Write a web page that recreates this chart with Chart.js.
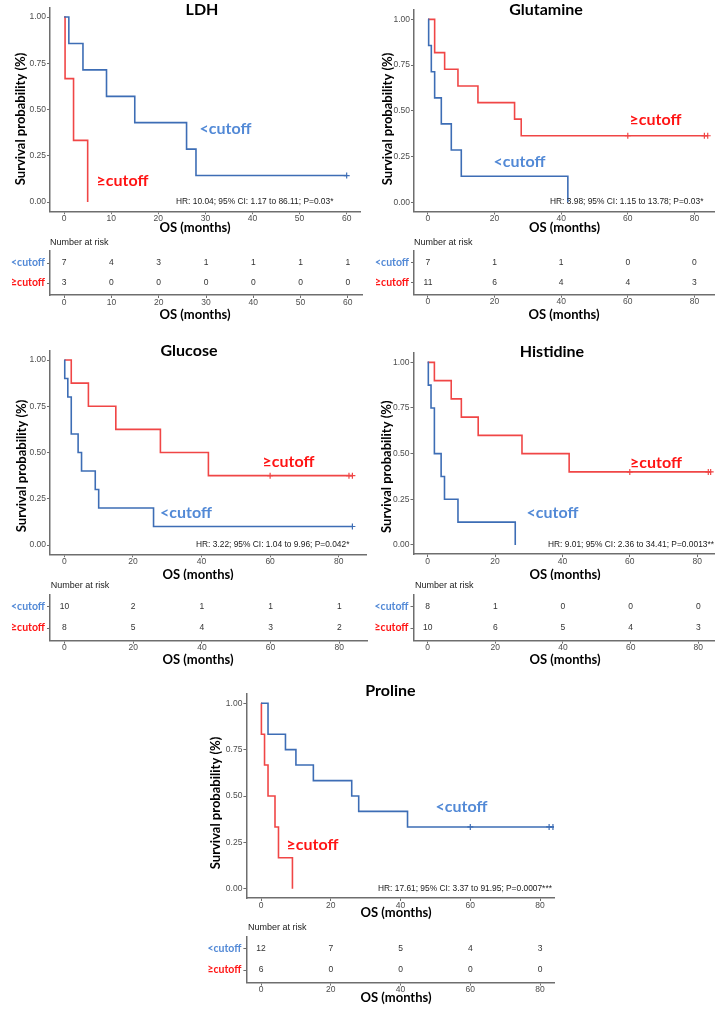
<!DOCTYPE html>
<html><head><meta charset="utf-8">
<script src="https://cdn.jsdelivr.net/npm/chart.js@4.4.1/dist/chart.umd.min.js"></script>
<style>
html,body{margin:0;padding:0;background:#fff;overflow:hidden;}
body{position:relative;width:715px;height:1015px;}
canvas{position:absolute;}
</style></head><body>
<script>
// ---------------- DATA ----------------
const groups = ['<cutoff', '≥cutoff'];
const yTickVals = [0, 0.25, 0.5, 0.75, 1];
const yTickLabels = ['0.00', '0.25', '0.50', '0.75', '1.00'];
const xTicksLDH = [0, 10, 20, 30, 40, 50, 60];
const xTicksOther = [0, 20, 40, 60, 80];

// LDH
const ldhLowT = [0, 1, 4, 9, 15, 26, 28, 60];
const ldhLowS = [1, 0.857, 0.714, 0.571, 0.429, 0.286, 0.143, 0.143];
const ldhLowCensT = [60];
const ldhLowCensS = [0.143];
const ldhHighT = [0, 0.2, 2, 5];
const ldhHighS = [1, 0.667, 0.333, 0];
const ldhHighCensT = [];
const ldhHighCensS = [];
const ldhRiskLow = [7, 4, 3, 1, 1, 1, 1];
const ldhRiskHigh = [3, 0, 0, 0, 0, 0, 0];
const ldhHR = 'HR: 10.04; 95% CI: 1.17 to 86.11; P=0.03*';

// Glutamine
const glnLowT = [0, 0.2, 1, 2, 4, 7, 10, 42];
const glnLowS = [1, 0.857, 0.714, 0.571, 0.429, 0.286, 0.143, 0];
const glnLowCensT = [];
const glnLowCensS = [];
const glnHighT = [0, 2, 5, 9, 15, 26, 28, 84];
const glnHighS = [1, 0.818, 0.727, 0.636, 0.545, 0.455, 0.364, 0.364];
const glnHighCensT = [60, 83, 84];
const glnHighCensS = [0.364, 0.364, 0.364];
const glnRiskLow = [7, 1, 1, 0, 0];
const glnRiskHigh = [11, 6, 4, 4, 3];
const glnHR = 'HR: 3.98; 95% CI: 1.15 to 13.78; P=0.03*';

// Glucose
const gluLowT = [0, 0.1, 1, 2, 4, 5, 9, 10, 26, 84];
const gluLowS = [1, 0.9, 0.8, 0.6, 0.5, 0.4, 0.3, 0.2, 0.1, 0.1];
const gluLowCensT = [84];
const gluLowCensS = [0.1];
const gluHighT = [0, 2, 7, 15, 28, 42, 84];
const gluHighS = [1, 0.875, 0.75, 0.625, 0.5, 0.375, 0.375];
const gluHighCensT = [60, 83, 84];
const gluHighCensS = [0.375, 0.375, 0.375];
const gluRiskLow = [10, 2, 1, 1, 1];
const gluRiskHigh = [8, 5, 4, 3, 2];
const gluHR = 'HR: 3.22; 95% CI: 1.04 to 9.96; P=0.042*';

// Histidine
const hisLowT = [0, 0.2, 1, 2, 4, 5, 9, 26];
const hisLowS = [1, 0.875, 0.75, 0.5, 0.375, 0.25, 0.125, 0];
const hisLowCensT = [];
const hisLowCensS = [];
const hisHighT = [0, 2, 7, 10, 15, 28, 42, 84];
const hisHighS = [1, 0.9, 0.8, 0.7, 0.6, 0.5, 0.4, 0.4];
const hisHighCensT = [60, 83.3, 84];
const hisHighCensS = [0.4, 0.4, 0.4];
const hisRiskLow = [8, 1, 0, 0, 0];
const hisRiskHigh = [10, 6, 5, 4, 3];
const hisHR = 'HR: 9.01; 95% CI: 2.36 to 34.41; P=0.0013**';

// Proline
const proLowT = [0, 2, 7, 10, 15, 26, 28, 42, 84];
const proLowS = [1, 0.833, 0.75, 0.667, 0.583, 0.5, 0.417, 0.333, 0.333];
const proLowCensT = [60, 82.6, 83.7];
const proLowCensS = [0.333, 0.333, 0.333];
const proHighT = [0, 0.1, 1, 2, 4, 5, 9];
const proHighS = [1, 0.833, 0.667, 0.5, 0.333, 0.167, 0];
const proHighCensT = [];
const proHighCensS = [];
const proRiskLow = [12, 7, 5, 4, 3];
const proRiskHigh = [6, 0, 0, 0, 0];
const proHR = 'HR: 17.61; 95% CI: 3.37 to 91.95; P=0.0007***';

// ---------------- STYLE ----------------
const AXIS = '#6e6e6e', TICKTXT = '#4d4d4d';
const LINE_COLORS = ['#3d6db5', '#f04646'];
const TXT_COLORS = ['#5289d6', '#ff1414'];
const SANS = "'Liberation Sans', Arial, sans-serif";
const BOLD = "Lato, 'Open Sans', sans-serif";
const TICK_FONT = {family: SANS, size: 8.5, lineHeight: 1};
const ROT = -Math.PI / 2;

function mkCanvas(box) {
  const c = document.createElement('canvas');
  c.width = box.w; c.height = box.h;
  c.style.left = box.x + 'px'; c.style.top = box.y + 'px';
  c.style.width = box.w + 'px'; c.style.height = box.h + 'px';
  document.body.appendChild(c);
  return c;
}

function overlay(box, items) {
  return { id: 'overlayText', afterDraw(chart) {
    const ctx = chart.ctx;
    items.forEach(it => {
      ctx.save();
      ctx.font = it.font; ctx.fillStyle = it.color || '#000';
      ctx.textAlign = it.align || 'center'; ctx.textBaseline = 'middle';
      ctx.translate(it.x - box.x, it.y - box.y);
      if (it.rot) ctx.rotate(it.rot);
      ctx.fillText(it.text, 0, 0);
      ctx.restore();
    });
  }};
}

function riskPlugin(counts) {
  return { id: 'riskNums', afterDatasetsDraw(chart) {
    const ctx = chart.ctx;
    ctx.save();
    ctx.font = '8.5px ' + SANS; ctx.fillStyle = '#333';
    ctx.textAlign = 'center'; ctx.textBaseline = 'middle';
    chart.data.datasets.forEach((ds, di) => {
      chart.getDatasetMeta(di).data.forEach((pt, i) => ctx.fillText(String(counts[di][i]), pt.x, pt.y));
    });
    ctx.restore();
  }};
}

function xScale(box, area, xr, xticks) {
  return {
    type: 'linear', min: xr[0], max: xr[1],
    afterBuildTicks: s => { s.ticks = xticks.map(v => ({value: v})); },
    afterFit: s => { s.height = box.y + box.h - area.b; s.paddingLeft = 0; s.paddingRight = 0; },
    grid: {drawOnChartArea: false, drawTicks: true, tickLength: 3, color: AXIS, lineWidth: 1},
    border: {display: true, color: AXIS, width: 1.5},
    ticks: {font: TICK_FONT, color: TICKTXT, padding: 0, maxRotation: 0, autoSkip: false}
  };
}

function layoutPad(box, area) {
  return {left: 0, top: area.t - box.y, right: box.x + box.w - area.r, bottom: 0};
}

function kmChart(box, area, xr, xticks, low, high, items) {
  const c = mkCanvas(box);
  const mk = (T, S) => T.map((t, i) => ({x: t, y: S[i]}));
  const datasets = [
    {data: mk(low.T, low.S), stepped: 'before', borderColor: LINE_COLORS[0], borderWidth: 1.6, pointRadius: 0, fill: false},
    {data: mk(high.T, high.S), stepped: 'before', borderColor: LINE_COLORS[1], borderWidth: 1.6, pointRadius: 0, fill: false},
    {data: mk(low.cT, low.cS), showLine: false, pointStyle: 'cross', pointRadius: 3, borderColor: LINE_COLORS[0], borderWidth: 1.2},
    {data: mk(high.cT, high.cS), showLine: false, pointStyle: 'cross', pointRadius: 3, borderColor: LINE_COLORS[1], borderWidth: 1.2}
  ];
  new Chart(c, {
    type: 'line',
    data: {datasets},
    options: {
      responsive: false, animation: false,
      layout: {padding: layoutPad(box, area)},
      plugins: {legend: {display: false}, tooltip: {enabled: false}},
      scales: {
        x: xScale(box, area, xr, xticks),
        y: {
          type: 'linear', min: -0.05, max: 1.05,
          afterBuildTicks: s => { s.ticks = yTickVals.map(v => ({value: v})); },
          afterFit: s => { s.width = area.l - box.x; s.paddingTop = 0; s.paddingBottom = 0; },
          grid: {drawOnChartArea: false, drawTicks: true, tickLength: 3, color: AXIS, lineWidth: 1},
          border: {display: true, color: AXIS, width: 1.5},
          ticks: {font: TICK_FONT, color: TICKTXT, padding: 1, autoSkip: false, callback: (v, i) => yTickLabels[i]}
        }
      }
    },
    plugins: [overlay(box, items)]
  });
}

function riskChart(box, area, xr, xticks, riskLow, riskHigh, items) {
  const c = mkCanvas(box);
  const row = (r) => xticks.map(t => ({x: t, y: r}));
  new Chart(c, {
    type: 'line',
    data: {datasets: [
      {data: row(0), showLine: false, pointRadius: 0},
      {data: row(1), showLine: false, pointRadius: 0}
    ]},
    options: {
      responsive: false, animation: false,
      layout: {padding: layoutPad(box, area)},
      plugins: {legend: {display: false}, tooltip: {enabled: false}},
      scales: {
        x: xScale(box, area, xr, xticks),
        y: {
          type: 'linear', min: -0.6, max: 1.6, reverse: true,
          afterBuildTicks: s => { s.ticks = [0, 1].map(v => ({value: v})); },
          afterFit: s => { s.width = area.l - box.x; s.paddingTop = 0; s.paddingBottom = 0; },
          grid: {drawOnChartArea: false, drawTicks: true, tickLength: 3, color: AXIS, lineWidth: 1},
          border: {display: true, color: AXIS, width: 1.5},
          ticks: {font: {family: BOLD, size: 10.5, weight: 'bold', lineHeight: 1},
                  color: ctx => TXT_COLORS[ctx.index], padding: 2, autoSkip: false,
                  callback: (v, i) => groups[i]}
        }
      }
    },
    plugins: [riskPlugin([riskLow, riskHigh]), overlay(box, items)]
  });
}

const F_TITLE = 'bold 16px ' + BOLD;
const F_AX = 'bold 13px ' + BOLD;
const F_LAB = 'bold 16px ' + BOLD;
const F_HR = '8.4px ' + SANS;
const F_NAR = '9px ' + SANS;

function panel(p) {
  kmChart(p.kmBox, p.kmArea, p.xr, p.xticks, p.low, p.high, [
    {text: p.title, x: p.titlePos[0], y: p.titlePos[1], font: F_TITLE},
    {text: 'Survival probability (%)', x: p.yTitle[0], y: p.yTitle[1], font: F_AX, rot: ROT},
    {text: 'OS (months)', x: p.xTitle[0], y: p.xTitle[1], font: F_AX},
    {text: groups[0], x: p.lowLab[0], y: p.lowLab[1], font: F_LAB, color: TXT_COLORS[0]},
    {text: groups[1], x: p.highLab[0], y: p.highLab[1], font: F_LAB, color: TXT_COLORS[1]},
    {text: p.hr, x: p.hrPos[0], y: p.hrPos[1], font: F_HR, color: '#1a1a1a', align: 'left'}
  ]);
  riskChart(p.tBox, p.tArea, p.xr, p.xticks, p.riskLow, p.riskHigh, [
    {text: 'Number at risk', x: p.nar[0], y: p.nar[1], font: F_NAR, color: '#1a1a1a', align: 'left'},
    {text: 'OS (months)', x: p.tTitle[0], y: p.tTitle[1], font: F_AX}
  ]);
}

panel({
  title: 'LDH', xr: [-3, 63], xticks: xTicksLDH,
  kmBox: {x: 0, y: 0, w: 366, h: 238}, kmArea: {l: 50, t: 7.75, r: 362, b: 211.25},
  tBox: {x: 0, y: 232, w: 366, h: 90}, tArea: {l: 50, t: 251, r: 362, b: 295},
  low: {T: ldhLowT, S: ldhLowS, cT: ldhLowCensT, cS: ldhLowCensS},
  high: {T: ldhHighT, S: ldhHighS, cT: ldhHighCensT, cS: ldhHighCensS},
  riskLow: ldhRiskLow, riskHigh: ldhRiskHigh, hr: ldhHR,
  titlePos: [202, 10], yTitle: [21, 119], xTitle: [195, 228],
  lowLab: [225.5, 129], highLab: [122.5, 181], hrPos: [176, 202],
  nar: [50, 242.7], tTitle: [195, 315]
});
panel({
  title: 'Glutamine', xr: [-4.2, 88.2], xticks: xTicksOther,
  kmBox: {x: 360, y: 0, w: 370, h: 238}, kmArea: {l: 414, t: 10.2, r: 721.7, b: 211.5},
  tBox: {x: 360, y: 232, w: 370, h: 90}, tArea: {l: 414, t: 250.7, r: 721.7, b: 294.7},
  low: {T: glnLowT, S: glnLowS, cT: glnLowCensT, cS: glnLowCensS},
  high: {T: glnHighT, S: glnHighS, cT: glnHighCensT, cS: glnHighCensS},
  riskLow: glnRiskLow, riskHigh: glnRiskHigh, hr: glnHR,
  titlePos: [546, 10], yTitle: [388, 119], xTitle: [564.5, 227.5],
  lowLab: [519.5, 162], highLab: [655.5, 120], hrPos: [550, 202],
  nar: [414, 242.7], tTitle: [564, 315]
});
panel({
  title: 'Glucose', xr: [-4.2, 88.2], xticks: xTicksOther,
  kmBox: {x: 0, y: 340, w: 372, h: 240}, kmArea: {l: 50, t: 350.75, r: 367.5, b: 554.25},
  tBox: {x: 0, y: 576, w: 372, h: 92}, tArea: {l: 50, t: 594.4, r: 367.5, b: 640.6},
  low: {T: gluLowT, S: gluLowS, cT: gluLowCensT, cS: gluLowCensS},
  high: {T: gluHighT, S: gluHighS, cT: gluHighCensT, cS: gluHighCensS},
  riskLow: gluRiskLow, riskHigh: gluRiskHigh, hr: gluHR,
  titlePos: [189, 351], yTitle: [21.7, 466], xTitle: [198, 575],
  lowLab: [186, 513], highLab: [288.5, 462], hrPos: [196, 545],
  nar: [50.7, 586], tTitle: [198, 660]
});
panel({
  title: 'Histidine', xr: [-4.2, 88.2], xticks: xTicksOther,
  kmBox: {x: 360, y: 340, w: 370, h: 240}, kmArea: {l: 413.5, t: 353.2, r: 726, b: 554.1},
  tBox: {x: 360, y: 576, w: 370, h: 92}, tArea: {l: 413.5, t: 594.4, r: 726, b: 640.6},
  low: {T: hisLowT, S: hisLowS, cT: hisLowCensT, cS: hisLowCensS},
  high: {T: hisHighT, S: hisHighS, cT: hisHighCensT, cS: hisHighCensS},
  riskLow: hisRiskLow, riskHigh: hisRiskHigh, hr: hisHR,
  titlePos: [552, 351.7], yTitle: [387, 466.7], xTitle: [565, 575],
  lowLab: [552.5, 513], highLab: [656, 462.7], hrPos: [548, 545],
  nar: [415, 586], tTitle: [565, 660]
});
panel({
  title: 'Proline', xr: [-4.2, 84], xticks: xTicksOther,
  kmBox: {x: 195, y: 680, w: 365, h: 240}, kmArea: {l: 246.4, t: 694, r: 554, b: 898},
  tBox: {x: 195, y: 918, w: 365, h: 92}, tArea: {l: 246.4, t: 936.4, r: 554, b: 982.6},
  low: {T: proLowT, S: proLowS, cT: proLowCensT, cS: proLowCensS},
  high: {T: proHighT, S: proHighS, cT: proHighCensT, cS: proHighCensS},
  riskLow: proRiskLow, riskHigh: proRiskHigh, hr: proHR,
  titlePos: [390.5, 691], yTitle: [216, 803], xTitle: [396, 913],
  lowLab: [461.5, 806.7], highLab: [312.5, 845], hrPos: [378, 889],
  nar: [248, 928], tTitle: [396, 998]
});
</script>
</body></html>
